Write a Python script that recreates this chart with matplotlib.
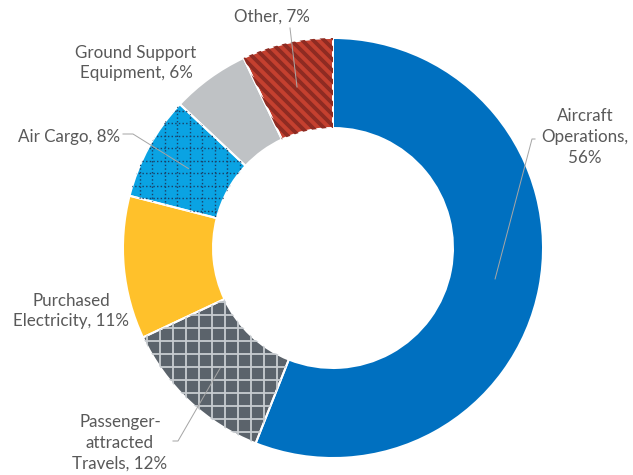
import numpy as np
import matplotlib.pyplot as plt
from matplotlib.collections import LineCollection

W, H = 633, 475

# data
categories = ["Aircraft Operations", "Passenger-attracted Travels", "Purchased Electricity",
              "Air Cargo", "Ground Support Equipment", "Other"]
shares = [56, 12, 11, 8, 6, 7]
labels = ["Aircraft\nOperations,\n56%", "Passenger-\nattracted\nTravels, 12%",
          "Purchased\nElectricity, 11%", "Air Cargo, 8%",
          "Ground Support\nEquipment, 6%", "Other, 7%"]

colors = ["#0070C0", "#5B636B", "#FFC12B", "#0AA3E3", "#BFC2C5", "#C4402F"]
text_color = "#595959"
plt.rcParams["font.family"] = ["Lato", "DejaVu Sans"]

cx, cy = 333, H - 248
r_out, r_in = 210, 120

fig = plt.figure(figsize=(W / 72, H / 72), dpi=72)
ax = fig.add_axes([0, 0, 1, 1])

kw = dict(startangle=90, counterclock=False, center=(cx, cy), radius=r_out)
wedges, _ = ax.pie(shares, colors=colors,
                   wedgeprops=dict(width=r_out - r_in, linewidth=0), **kw)


def grid_lines(step, offset=0.0):
    segs = []
    for x in np.arange(offset, W, step):
        segs.append([(x, 0), (x, H)])
    for y in np.arange(offset, H, step):
        segs.append([(0, y), (W, y)])
    return segs


def diag_lines(step):
    segs = []
    for c in np.arange(-H, W + H, step):
        segs.append([(c, H), (c + H, 0)])
    return segs


# pattern fills, clipped to their wedge
patterns = {
    1: (grid_lines(13, 4), dict(colors="#C9CDD1", linewidths=1.8)),
    3: (grid_lines(12.5, 2), dict(colors="#1B3F66", linewidths=1.4, linestyles=(0, (1, 1.6)))),
    5: (diag_lines(11), dict(colors="#8E2B22", linewidths=3.8)),
}
for i, (segs, style) in patterns.items():
    lc = LineCollection(segs, **style)
    ax.add_collection(lc)
    lc.set_clip_path(wedges[i])

# white separators on top
ax.pie(shares, colors=["none"] * len(shares),
       wedgeprops=dict(width=r_out - r_in, linewidth=2, edgecolor="white", fill=False), **kw)

ax.set_xlim(0, W)
ax.set_ylim(0, H)
ax.set_aspect("equal")
ax.axis("off")

# labels (image-pixel positions, y from top)
label_pos = [(585, 137), (120, 443), (71, 311), (69, 137), (136, 63), (272, 17)]
for lab, (x, y) in zip(labels, label_pos):
    ax.text(x, H - y, lab, ha="center", va="center", fontsize=17,
            color=text_color, linespacing=1.35)

# leader lines to wedge mid-ring
cum = np.cumsum([0] + shares[:-1])
r_mid = (r_out + r_in) / 2
leaders = {0: [(535, 139), (532, 139)], 1: [(173, 441), (178, 441)],
           3: [(123, 134), (133, 134)], 5: [(290, 28)]}
for i, pts in leaders.items():
    ang = np.deg2rad(90 - (cum[i] + shares[i] / 2) / 100 * 360)
    ex, ey = cx + r_mid * np.cos(ang), cy + r_mid * np.sin(ang)
    xs = [p[0] for p in pts] + [ex]
    ys = [H - p[1] for p in pts] + [ey]
    ax.plot(xs, ys, color="#A6A6A6", linewidth=1, zorder=5)

plt.savefig("out.png", dpi=72)
